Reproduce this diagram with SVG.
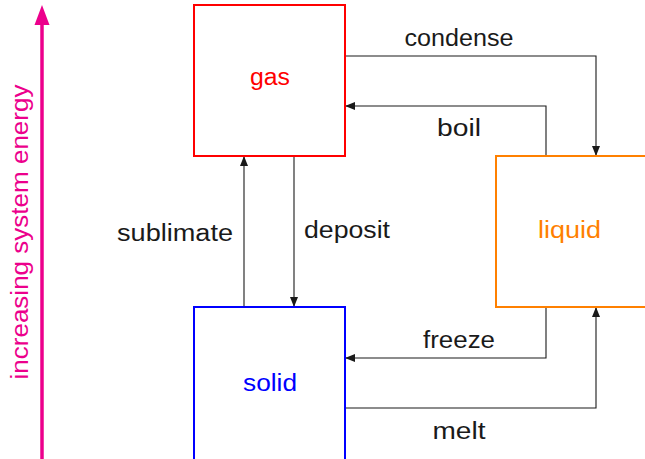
<svg xmlns="http://www.w3.org/2000/svg" width="645" height="459" viewBox="0 0 645 459">
<style>
text{font-family:"Liberation Sans","DejaVu Sans",sans-serif;font-size:23px;fill:#1a1a1a}
.box{fill:#fff;stroke-width:2}
.c{fill:none;stroke:#1a1a1a;stroke-width:1.1}
</style>
<defs>
<marker id="ah" markerWidth="10" markerHeight="8" refX="9" refY="4" orient="auto" markerUnits="userSpaceOnUse">
<path d="M0,0 L10,4 L0,8 z" fill="#1a1a1a"/>
</marker>
</defs>
<g id="energy-axis">
<line x1="42" y1="459" x2="42" y2="22" stroke="#ec008c" stroke-width="3.5"/>
<path d="M34.5,25 L42,5 L49.5,25 z" fill="#ec008c"/>
<text transform="translate(28,232) rotate(-90)" text-anchor="middle" style="fill:#ec008c" textLength="295" lengthAdjust="spacingAndGlyphs">increasing system energy</text>
</g>
<g id="connectors">
<path class="c" d="M345,56 H596 V155" marker-end="url(#ah)"/>
<path class="c" d="M546,156 V106 H346" marker-end="url(#ah)"/>
<path class="c" d="M546,307 V358 H346" marker-end="url(#ah)"/>
<path class="c" d="M345,408 H596 V308" marker-end="url(#ah)"/>
<path class="c" d="M244,307 V157" marker-end="url(#ah)"/>
<path class="c" d="M294,156 V306" marker-end="url(#ah)"/>
<text x="459" y="46" text-anchor="middle" textLength="109" lengthAdjust="spacingAndGlyphs">condense</text>
<text x="459" y="136" text-anchor="middle" textLength="44" lengthAdjust="spacingAndGlyphs">boil</text>
<text x="459" y="348" text-anchor="middle" textLength="72" lengthAdjust="spacingAndGlyphs">freeze</text>
<text x="459" y="439" text-anchor="middle" textLength="53" lengthAdjust="spacingAndGlyphs">melt</text>
<text x="233" y="241" text-anchor="end" textLength="116" lengthAdjust="spacingAndGlyphs">sublimate</text>
<text x="304" y="238" textLength="86" lengthAdjust="spacingAndGlyphs">deposit</text>
</g>
<g id="gas">
<rect class="box" x="194" y="5" width="151" height="151" stroke="#ff0000"/>
<text x="270" y="85" text-anchor="middle" style="fill:#ff0000" textLength="40" lengthAdjust="spacingAndGlyphs">gas</text>
</g>
<g id="solid">
<rect class="box" x="194" y="307" width="151" height="160" stroke="#0000ff"/>
<text x="270" y="391" text-anchor="middle" style="fill:#0000ff" textLength="54" lengthAdjust="spacingAndGlyphs">solid</text>
</g>
<g id="liquid">
<rect class="box" x="496" y="156" width="160" height="151" stroke="#ff8000"/>
<text x="538" y="238" style="fill:#ff8000" textLength="63" lengthAdjust="spacingAndGlyphs">liquid</text>
</g>
</svg>
